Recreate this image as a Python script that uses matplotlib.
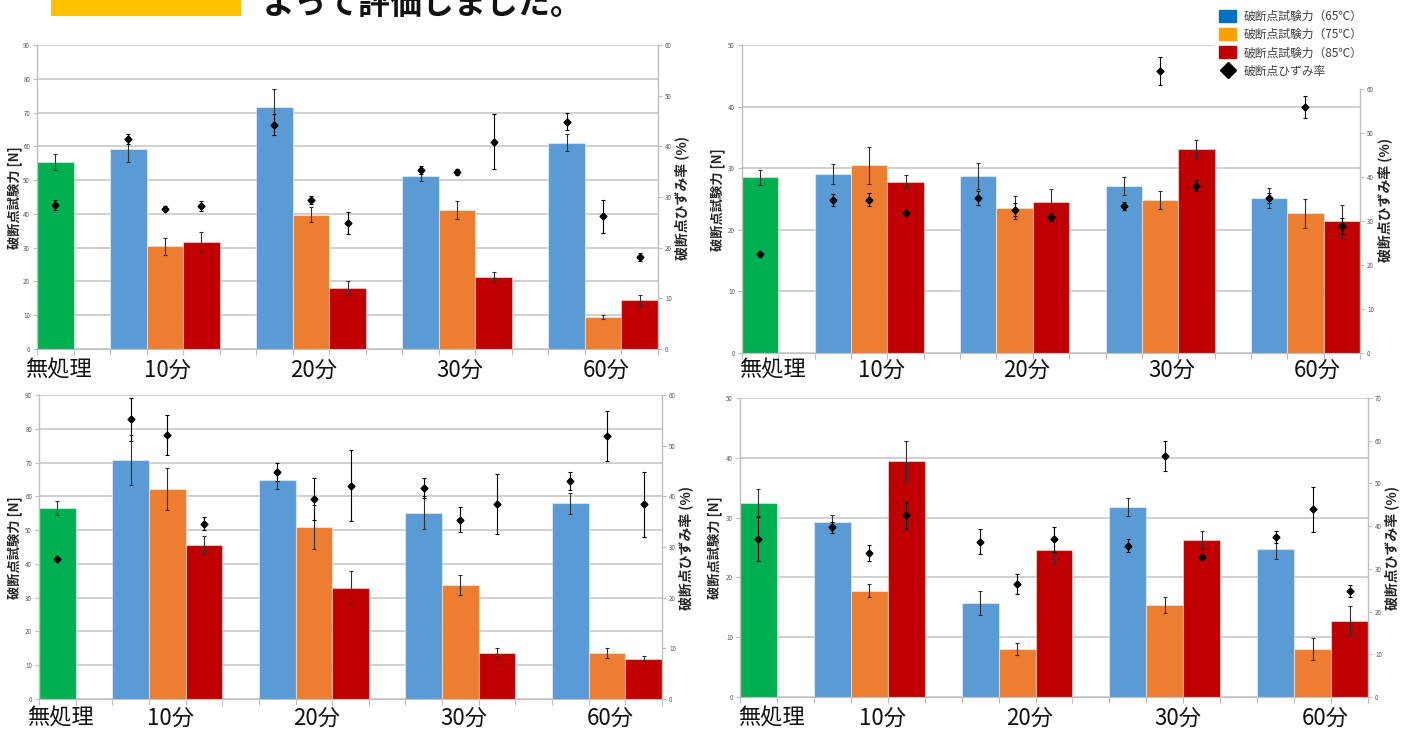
import matplotlib.pyplot as plt
import numpy as np
from matplotlib.patches import Patch, Rectangle
from matplotlib.lines import Line2D

plt.rcParams['font.family'] = ['Noto Sans CJK JP', 'DejaVu Sans']

W, H = 1411, 736

categories = ['無処理', '10分', '20分', '30分', '60分']
legend_labels = ['破断点試験力（65℃）', '破断点試験力（75℃）',
                 '破断点試験力（85℃）', '破断点ひずみ率']

# untreated: [force, force err, strain, strain err]
# rows of force/strain lists: 65, 75, 85 ℃; columns: 10, 20, 30, 60 min
p1_base = [55.3, 2.3, 28.4, 1.0]
p1_force = [[59.2, 71.7, 51.3, 61.1],
            [30.4, 39.7, 41.2, 9.6],
            [31.6, 18.0, 21.2, 14.4]]
p1_force_err = [[3.7, 5.2, 1.6, 2.6],
                [2.5, 2.2, 2.6, 0.6],
                [3.0, 2.1, 1.5, 1.6]]
p1_strain = [[41.4, 44.3, 35.3, 44.9],
             [27.7, 29.4, 34.9, 26.2],
             [28.2, 24.8, 40.9, 18.2]]
p1_strain_err = [[1.0, 2.0, 0.8, 1.7],
                 [0.5, 0.8, 0.6, 3.3],
                 [1.0, 2.2, 5.4, 0.8]]

p2_base = [28.5, 1.15, 22.4, 0.4]
p2_force = [[29.1, 28.8, 27.1, 25.2],
            [30.5, 23.6, 24.8, 22.7],
            [27.8, 24.5, 33.1, 21.4]]
p2_force_err = [[1.65, 2.1, 1.5, 1.6],
                [3.0, 1.9, 1.5, 2.35],
                [1.05, 2.1, 1.4, 2.7]]
p2_strain = [[34.7, 35.2, 33.4, 35.3],
             [34.8, 32.6, 64.1, 55.9],
             [31.8, 30.8, 38.0, 28.9]]
p2_strain_err = [[1.4, 1.6, 1.0, 1.1],
                 [1.5, 1.4, 3.1, 2.5],
                 [0.5, 0.8, 1.25, 1.8]]

p3_base = [56.6, 2.1, 27.7, 0.4]
p3_force = [[70.8, 64.8, 55.2, 57.9],
            [62.3, 50.9, 33.7, 13.6],
            [45.6, 33.0, 13.7, 11.9]]
p3_force_err = [[7.4, 2.6, 4.9, 3.2],
                [6.2, 6.5, 2.9, 1.5],
                [2.7, 4.9, 1.5, 0.7]]
p3_strain = [[55.2, 44.8, 41.6, 43.1],
             [52.1, 39.5, 35.4, 51.9],
             [34.6, 42.1, 38.5, 38.4]]
p3_strain_err = [[4.2, 1.7, 2.0, 1.8],
                 [4.0, 4.2, 2.4, 4.9],
                 [1.3, 7.0, 5.9, 6.4]]

p4_base = [32.5, 2.2, 37.0, 5.1]
p4_force = [[29.3, 15.7, 31.8, 24.8],
            [17.8, 8.0, 15.4, 8.0],
            [39.4, 24.5, 26.3, 12.7]]
p4_force_err = [[1.2, 2.0, 1.55, 1.8],
                [1.05, 0.95, 1.3, 1.8],
                [3.35, 2.2, 1.5, 2.5]]
p4_strain = [[39.7, 36.4, 35.4, 37.5],
             [33.7, 26.4, 56.5, 43.9],
             [42.5, 36.9, 32.8, 24.9]]
p4_strain_err = [[1.2, 2.9, 1.5, 1.4],
                 [1.9, 2.4, 3.5, 5.3],
                 [3.2, 3.0, 0.5, 1.4]]

GREEN = '#00B050'
BAR_COLORS = ['#5B9BD5', '#ED7D31', '#C00000']
LEGEND_COLORS = ['#0070C0', '#FFA000', '#C00000']
AXIS_GRAY = '#BFBFBF'
TICK_TEXT = '#595959'
N_SLOTS = 17


def px_rect(x0, y0, x1, y1):
    return [x0 / W, 1 - y1 / H, (x1 - x0) / W, (y1 - y0) / H]


def style_tick_axis(ax, side):
    ax.tick_params(axis='y', labelsize=4.5, labelcolor=TICK_TEXT,
                   length=3, width=0.8, color=AXIS_GRAY, pad=2)
    for s in ax.spines.values():
        s.set_visible(False)
    ax.spines[side].set_visible(True)
    ax.spines[side].set_color(AXIS_GRAY)
    ax.spines[side].set_linewidth(1.0)


def draw_panel(box, f_max, s_max, base, force, force_err, strain, strain_err,
               right_box=None, label_x=(15, 682), label_y=198, cat_y=370,
               cat_shift=3):
    ax = fig.add_axes(px_rect(*box))
    ekw = dict(ecolor='#303030', elinewidth=0.8, capsize=1.5, capthick=0.8)

    ax.bar(0.5, base[0], width=1, color=GREEN, yerr=base[1],
           edgecolor=(1, 1, 1, 0.45), linewidth=0.8, error_kw=ekw)
    for k in range(3):
        xs = [2 + 4 * t + k + 0.5 for t in range(4)]
        ax.bar(xs, force[k], width=1, color=BAR_COLORS[k], yerr=force_err[k],
               edgecolor=(1, 1, 1, 0.45), linewidth=0.8, error_kw=ekw)

    ax.set_xlim(0, N_SLOTS)
    ax.set_ylim(0, f_max)
    ax.set_yticks(np.arange(0, f_max + 1, 10))
    ax.set_xticks(np.arange(N_SLOTS + 1))
    ax.set_xticklabels([])
    ax.yaxis.grid(True, color='#D0D0D0', linewidth=1.4)
    ax.set_axisbelow(True)
    style_tick_axis(ax, 'left')
    ax.spines['bottom'].set_visible(True)
    ax.spines['bottom'].set_color(AXIS_GRAY)
    ax.tick_params(axis='x', length=4, width=0.8, color=AXIS_GRAY)

    if right_box is None:
        ax2 = ax.twinx()
    else:
        ax2 = fig.add_axes(px_rect(*right_box))
        ax2.patch.set_visible(False)
        ax2.yaxis.tick_right()
        ax2.set_xticks([])
    style_tick_axis(ax2, 'right')
    ax2.set_xlim(0, N_SLOTS)
    ax2.set_ylim(0, s_max)
    ax2.set_yticks(np.arange(0, s_max + 1, 10))

    pkw = dict(fmt='D', color='black', ms=3.5, elinewidth=0.8,
               capsize=1.5, capthick=0.8)
    conts = [ax2.errorbar(0.5, base[2], yerr=base[3], **pkw)]
    for k in range(3):
        xs = [2 + 4 * t + k + 0.5 for t in range(4)]
        conts.append(ax2.errorbar(xs, strain[k], yerr=strain_err[k], **pkw))
    for c in conts:
        for art in c.get_children():
            art.set_clip_on(False)

    fig.text(label_x[0] / W, 1 - label_y / H, '破断点試験力 [N]', rotation=90,
             ha='center', va='center', fontsize=9.5, fontweight='bold',
             color='#262626')
    fig.text(label_x[1] / W, 1 - label_y / H, '破断点ひずみ率 (%)', rotation=90,
             ha='center', va='center', fontsize=10, fontweight='bold',
             color='#262626')

    slot_px = (box[2] - box[0]) / N_SLOTS
    centers = [0.5, 3.5, 7.5, 11.5, 15.5]
    for lab, c in zip(categories, centers):
        x = box[0] + c * slot_px + cat_shift
        fig.text(x / W, 1 - cat_y / H, lab, ha='center', va='center',
                 fontsize=16, color='#111111')


fig = plt.figure(figsize=(W / 100, H / 100), dpi=100)

# slide heading above the charts
fig.add_artist(Rectangle((51 / W, 1 - 16 / H), 190 / W, 16 / H,
                         transform=fig.transFigure, color='#FFC000', lw=0))
fig.text(263 / W, 1 - 14 / H, 'よって評価しました。', ha='left', va='baseline',
         fontsize=23, fontweight='bold', color='#111111')

draw_panel((37, 45, 658, 349), 90, 60, p1_base, p1_force, p1_force_err,
           p1_strain, p1_strain_err, label_x=(15, 682), label_y=198,
           cat_y=370, cat_shift=3)
draw_panel((742, 45, 1360, 353), 50, 60, p2_base, p2_force, p2_force_err,
           p2_strain, p2_strain_err, right_box=(742, 89, 1360, 353),
           label_x=(718, 1385), label_y=200, cat_y=370, cat_shift=12)
draw_panel((39, 395, 662, 699), 90, 60, p3_base, p3_force, p3_force_err,
           p3_strain, p3_strain_err, label_x=(15, 686), label_y=548,
           cat_y=718, cat_shift=3)
draw_panel((740, 398, 1368, 697), 50, 70, p4_base, p4_force, p4_force_err,
           p4_strain, p4_strain_err, label_x=(715, 1392), label_y=548,
           cat_y=718, cat_shift=13)

handles = [Patch(color=c) for c in LEGEND_COLORS]
handles.append(Line2D([], [], marker='D', ls='none', color='black', ms=8))
fig.legend(handles, legend_labels, loc='upper left',
           bbox_to_anchor=(1214 / W, 1 - 5 / H), frameon=True,
           facecolor='white', edgecolor='none', framealpha=1, fontsize=8.5,
           labelcolor='#404040', handlelength=1.5, handleheight=1.15,
           handletextpad=0.6, labelspacing=0.45, borderpad=0.4,
           borderaxespad=0)

fig.savefig('out.png', dpi=100)
